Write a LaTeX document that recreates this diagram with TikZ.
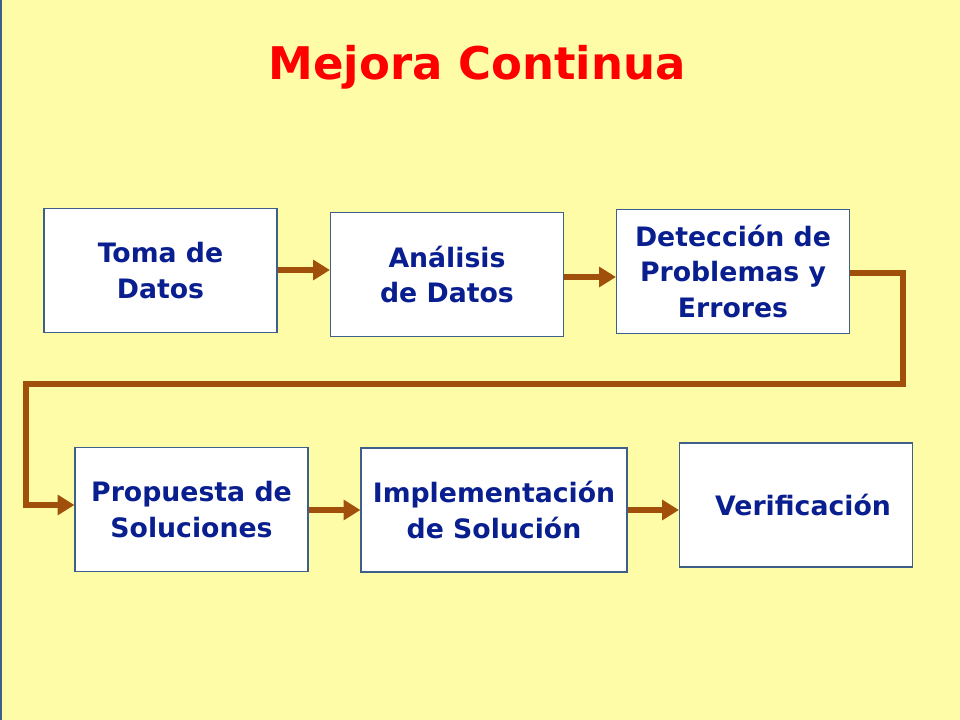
\documentclass[tikz,border=0pt]{standalone}
\usepackage{fontspec}
\setmainfont{DejaVu Sans}
\usetikzlibrary{arrows.meta}
\definecolor{bgyellow}{HTML}{FFFCA8}
\definecolor{boxline}{HTML}{3E5F8A}
\definecolor{txtblue}{HTML}{0A1F8F}
\definecolor{flowbrown}{HTML}{A0500A}
\tikzset{
  stage/.style={draw=boxline, thick, fill=white, minimum width=233*0.025cm, minimum height=124*0.025cm,
    align=center, text=txtblue, inner sep=1pt, font=\fontsize{19}{25}\selectfont\bfseries},
  flow/.style={draw=flowbrown, line width=4.5pt, -{Triangle[length=12pt,width=14pt]}}
}
\begin{document}
\begin{tikzpicture}[x=0.025cm, y=-0.025cm]
  \fill[bgyellow] (0,0) rectangle (960,720);
  \useasboundingbox (0,0) rectangle (960,720);
  \draw[boxline, line width=1.5pt] (0.5,0) -- (0.5,720);
  \node[text=red, font=\fontsize{32}{38}\selectfont\bfseries] (title) at (477,67) {Mejora Continua};
  \node[stage] (toma) at (160.5,270.5) {Toma de\\Datos};
  \node[stage] (analisis) at (447,274.5) {Análisis\\de Datos};
  \node[stage] (deteccion) at (733,271.5) {Detección de\\Problemas y\\Errores};
  \node[stage] (propuesta) at (191.5,509.5) {Propuesta de\\Soluciones};
  \node[stage, minimum width=266*0.025cm] (implem) at (494,510) {Implementación\\de Solución};
  \node[stage] (verif) at (796,505) {\hspace*{10pt}Verificación};
  \draw[flow] (toma.east |- 0,270) -- (analisis.west |- 0,270);
  \draw[flow] (analisis.east |- 0,277) -- (deteccion.west |- 0,277);
  \draw[flow] (deteccion.east |- 0,273) -| (903,384) -| (26,505) -- (propuesta.west |- 0,505);
  \draw[flow] (propuesta.east |- 0,510) -- (implem.west |- 0,510);
  \draw[flow] (implem.east |- 0,510) -- (verif.west |- 0,510);
\end{tikzpicture}
\end{document}
